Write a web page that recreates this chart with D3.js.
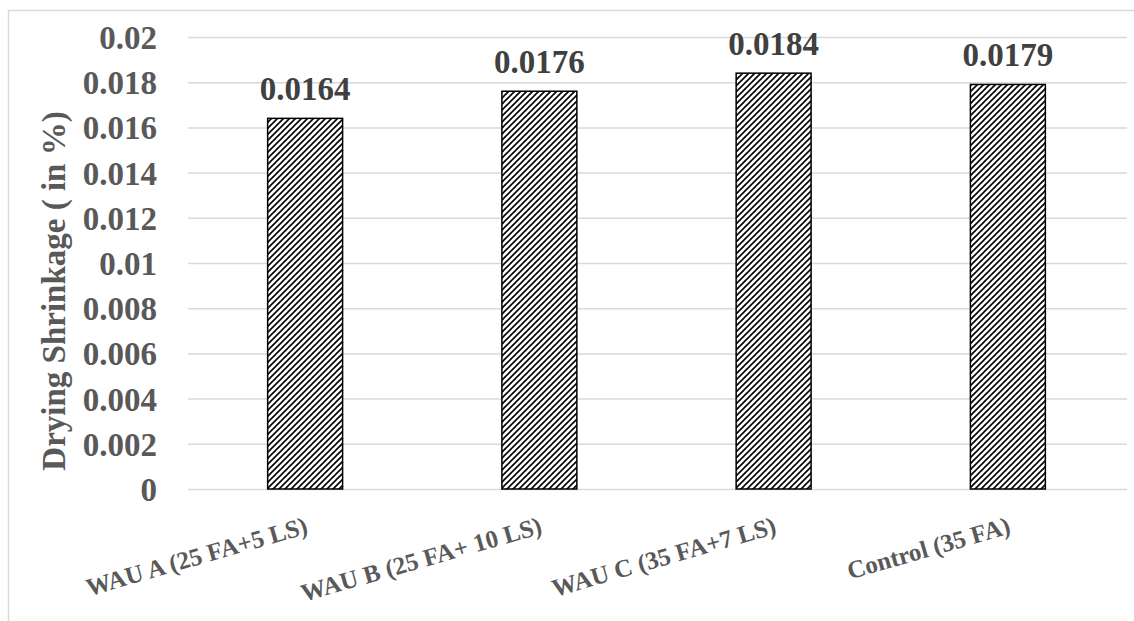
<!DOCTYPE html>
<html>
<head>
<meta charset="utf-8">
<script src="https://cdn.jsdelivr.net/npm/d3@7"></script>
<style>
	html, body { margin: 0; padding: 0; background: #fff; }
	#chart { width: 1134px; height: 621px; }
	svg text { font-family: 'Liberation Serif', 'Times New Roman', serif; font-weight: bold; }
</style>
</head>
<body>
<div id="chart"></div>
<script>
//data
const categories = ['WAU A (25 FA+5 LS)', 'WAU B (25 FA+ 10 LS)', 'WAU C (35 FA+7 LS)', 'Control (35 FA)'];
const values = [0.0164, 0.0176, 0.0184, 0.0179];
const valueLabels = ['0.0164', '0.0176', '0.0184', '0.0179'];
const yTicks = [0, 0.002, 0.004, 0.006, 0.008, 0.01, 0.012, 0.014, 0.016, 0.018, 0.02];
const yTitle = 'Drying Shrinkage ( in %)';

render();

function render() {
	let props = {
		width: 1134,
		height: 621,
		left: 188,
		right: 1125,
		top: 37,
		bottom: 489,
		gridColor: '#d9d9d9',
		axisColor: '#595959',
		labelColor: '#404040',
	};
	createVisualization(d3.select('#chart'), props);
}

function createVisualization(container, props) {
	let { width, height, left, right, top, bottom, gridColor, axisColor, labelColor } = props;

	let svg = container.append('svg').attr('width', width).attr('height', height);

	//hatch pattern
	svg.append('defs')
		.append('pattern')
		.attr('id', 'hatch')
		.attr('patternUnits', 'userSpaceOnUse')
		.attr('width', 6)
		.attr('height', 6)
		.call((p) => {
			p.append('rect').attr('width', 6).attr('height', 6).attr('fill', '#fff');
			p.append('path')
				.attr('d', 'M-1,1 l2,-2 M0,6 l6,-6 M5,7 l2,-2')
				.attr('stroke', '#000')
				.attr('stroke-width', 1.6);
		});

	//frame
	svg.append('rect')
		.attr('x', 8.5)
		.attr('y', 10.5)
		.attr('width', width)
		.attr('height', height)
		.attr('fill', 'none')
		.attr('stroke', gridColor)
		.attr('stroke-width', 1.5);

	let x = d3.scaleBand().domain(categories).range([left, right]).paddingInner(0.68).paddingOuter(0.34);
	let y = d3.scaleLinear().domain([0, 0.02]).range([bottom, top]);

	//grid + y axis
	let yAxis = svg.append('g')
		.attr('transform', translation(left, 0))
		.call(d3.axisLeft(y).tickValues(yTicks).tickSize(-(right + 2 - left)).tickPadding(31).tickFormat(d3.format('~g')));
	yAxis.select('.domain').remove();
	yAxis.selectAll('line').attr('stroke', gridColor).attr('stroke-width', 1.5);
	yAxis.selectAll('text')
		.attr('fill', axisColor)
		.attr('font-size', 33)
		.attr('dy', '0.35em');

	//bars
	svg.selectAll('.bar')
		.data(values)
		.join('rect')
		.attr('class', 'bar')
		.attr('x', (d, i) => x(categories[i]))
		.attr('y', (d) => y(d))
		.attr('width', x.bandwidth())
		.attr('height', (d) => y(0) - y(d))
		.attr('fill', 'url(#hatch)')
		.attr('stroke', '#000')
		.attr('stroke-width', 1.5);

	//value labels
	svg.selectAll('.value')
		.data(values)
		.join('text')
		.attr('class', 'value')
		.attr('x', (d, i) => x(categories[i]) + x.bandwidth() / 2)
		.attr('y', (d) => y(d) - 18)
		.attr('text-anchor', 'middle')
		.attr('fill', labelColor)
		.attr('font-size', 33)
		.text((d, i) => valueLabels[i]);

	//x axis labels
	let xAxis = svg.append('g')
		.attr('transform', translation(0, bottom))
		.call(d3.axisBottom(x).tickSize(0).tickPadding(0));
	xAxis.select('.domain').remove();
	xAxis.selectAll('text')
		.attr('fill', axisColor)
		.attr('font-size', 25)
		.attr('text-anchor', 'end')
		.attr('dy', 0)
		.attr('transform', 'translate(4, 44) rotate(-16)');

	//y title
	svg.append('text')
		.attr('transform', translation(65, 291) + ' rotate(-90)')
		.attr('text-anchor', 'middle')
		.attr('fill', axisColor)
		.attr('font-size', 33)
		.text(yTitle);
}

//utils
function translation(x, y) {
	return `translate(${x}, ${y})`;
}
</script>
</body>
</html>
